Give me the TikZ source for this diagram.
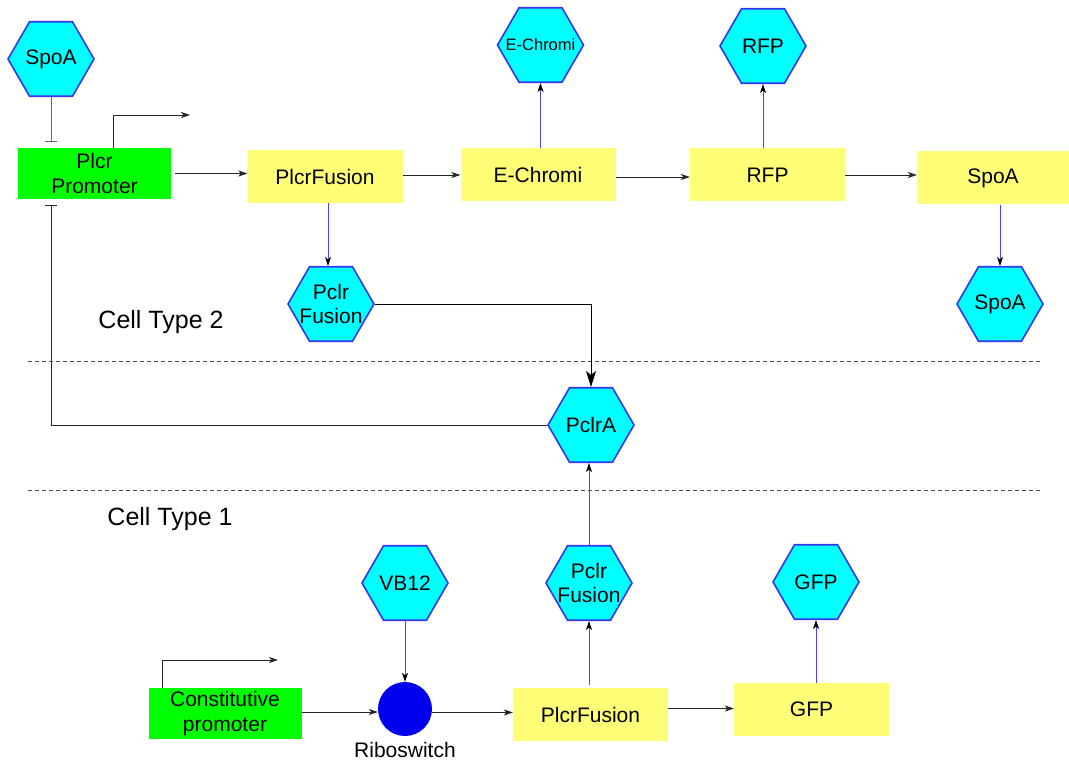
\documentclass[tikz,border=0pt]{standalone}
\usepackage{fontspec}
\setmainfont{Liberation Sans}
\usetikzlibrary{shapes.geometric,arrows.meta}
\definecolor{hexfill}{HTML}{00FFFF}
\definecolor{hexdraw}{HTML}{3535F0}
\definecolor{boxyellow}{HTML}{FFFF77}
\definecolor{boxgreen}{HTML}{00FF00}
\definecolor{ribo}{HTML}{0000EE}
\definecolor{bluelink}{HTML}{4646EE}
\begin{document}
\begin{tikzpicture}[x=1pt,y=-1pt,
  hexnode/.style={regular polygon, regular polygon sides=6, minimum size=86pt, inner sep=0pt,
    fill=hexfill, draw=hexdraw, line width=1.6pt},
  hexlab/.style={font=\fontsize{21}{24}\selectfont, align=center, inner sep=0pt},
  ybox/.style={rectangle, fill=boxyellow, minimum width=155pt, minimum height=53pt, inner sep=0pt,
    font=\fontsize{21}{24}\selectfont, align=center},
  gbox/.style={rectangle, fill=boxgreen, minimum width=153pt, minimum height=51pt, inner sep=0pt,
    font=\fontsize{21}{25}\selectfont, align=center},
  arr/.style={-{Stealth[length=9pt,width=6pt,inset=2.5pt]}, line width=0.8pt, draw=black!85},
  barr/.style={-{Stealth[length=9pt,width=6pt,inset=2.5pt,color=black]}, line width=0.7pt, draw=bluelink},
  bigarr/.style={-{Stealth[length=16pt,width=10pt,inset=4pt]}, line width=1pt, draw=black},
  inhib/.style={-{Bar[width=12pt]}, line width=0.9pt, draw=black!60},
  sepline/.style={dash pattern=on 4pt off 3pt, draw=black!70, line width=0.9pt},
  celltxt/.style={font=\fontsize{25}{28}\selectfont}
]
\useasboundingbox (0,0) rectangle (1069,765);

% ---- Cell type 2 ----
\node[hexnode, label={[hexlab]center:SpoA}] (spoaT) at (51,59) {};
\node[gbox] (prom2) at (94.5,173.5) {Plcr\\Promoter};
\node[ybox] (pf2) at (325,176.5) {PlcrFusion};
\node[ybox] (ech) at (538,175) {E-Chromi};
\node[ybox] (rfp) at (767.5,175) {RFP};
\node[ybox, minimum width=152pt] (spoaB) at (993,178) {SpoA};
\node[hexnode, label={[hexlab, font=\fontsize{16.5}{19}\selectfont]center:E-Chromi}] (echH) at (540.5,45) {};
\node[hexnode, label={[hexlab]center:RFP}] (rfpH) at (763,46) {};
\node[hexnode, label={[hexlab]center:SpoA}] (spoaH) at (1000,304) {};
\node[hexnode, label={[hexlab]center:Pclr\\Fusion}] (pfH2) at (331,304) {};
\node[celltxt] (ct2) at (161,322) {Cell Type 2};

\coordinate (tss2a) at (113,148);
\coordinate (tss2b) at (113,115);
\coordinate (tss2c) at (190,115);
\draw[arr] (tss2a) -- (tss2b) -- (tss2c);

\draw[inhib] (spoaT.south) -- ([yshift=6pt]prom2.north -| spoaT.south);
\draw[arr] (prom2.east) ++(4,0) coordinate (p2e) -- (pf2.west |- p2e);
\draw[arr] (pf2.east |- ech.west) -- (ech.west);
\draw[arr] (ech.east |- rfp.west) ++(0,2) coordinate (e2r) -- (rfp.west |- e2r);
\draw[arr] (rfp.east) -- (spoaB.west |- rfp.east);
\draw[barr] (ech.north -| echH.south) -- (echH.south);
\draw[barr] (rfp.north -| rfpH.south) -- (rfpH.south);
\draw[barr] (spoaB.south -| spoaH.north) -- (spoaH.north);
\draw[barr] (pf2.south) ++(3,0) coordinate (pfs) -- (pfH2.north -| pfs);

% ---- separators ----
\coordinate (d1a) at (28,361);
\coordinate (d1b) at (1040,361);
\coordinate (d2a) at (28,490);
\coordinate (d2b) at (1040,490);
\draw[sepline] (d1a) -- (d1b);
\draw[sepline] (d2a) -- (d2b);

\node[hexnode, label={[hexlab]center:PclrA}] (pclra) at (591,425) {};
\draw[bigarr] (pfH2.east) -| (pclra.north);
\coordinate (inhc) at (51,425);
\draw[inhib, draw=black!85] (pclra.west) -- (inhc) -- ([yshift=-6pt]prom2.south -| inhc);

% ---- Cell type 1 ----
\node[celltxt] (ct1) at (170,519) {Cell Type 1};
\node[hexnode, label={[hexlab]center:VB12}] (vb12) at (405,583) {};
\node[hexnode, label={[hexlab]center:Pclr\\Fusion}] (pfH1) at (589,583) {};
\node[hexnode, label={[hexlab]center:GFP}] (gfpH) at (816,582) {};
\node[gbox] (cprom) at (225,713.5) {Constitutive\\promoter};
\node[circle, fill=ribo, minimum size=54pt, inner sep=0pt] (ribo) at (405,709) {};
\node[font=\fontsize{21}{24}\selectfont] (ribolab) at (405,750) {Riboswitch};
\node[ybox] (pf1) at (590.5,714.5) {PlcrFusion};
\node[ybox] (gfp) at (811.5,709.5) {GFP};

\coordinate (tss1a) at (162,688);
\coordinate (tss1b) at (162,660);
\coordinate (tss1c) at (278,660);
\draw[arr] (tss1a) -- (tss1b) -- (tss1c);

\draw[arr] (cprom.east |- ribo.west) ++(0,3) coordinate (c2r) -- (ribo.west |- c2r);
\draw[arr] (ribo.east |- pf1.west) ++(0,-2) coordinate (r2p) -- (pf1.west |- r2p);
\draw[arr] (pf1.east |- gfp.west) ++(0,-1) coordinate (p2g) -- (gfp.west |- p2g);
\draw[barr] (vb12.south) -- (ribo.north);
\draw[barr] (pf1.north -| pfH1.south) ++(0,-3) coordinate (pfn) -- (pfH1.south);
\draw[barr] (pfH1.north) -- (pclra.south -| pfH1.north);
\draw[barr] (gfp.north -| gfpH.south) -- (gfpH.south);
\end{tikzpicture}
\end{document}
